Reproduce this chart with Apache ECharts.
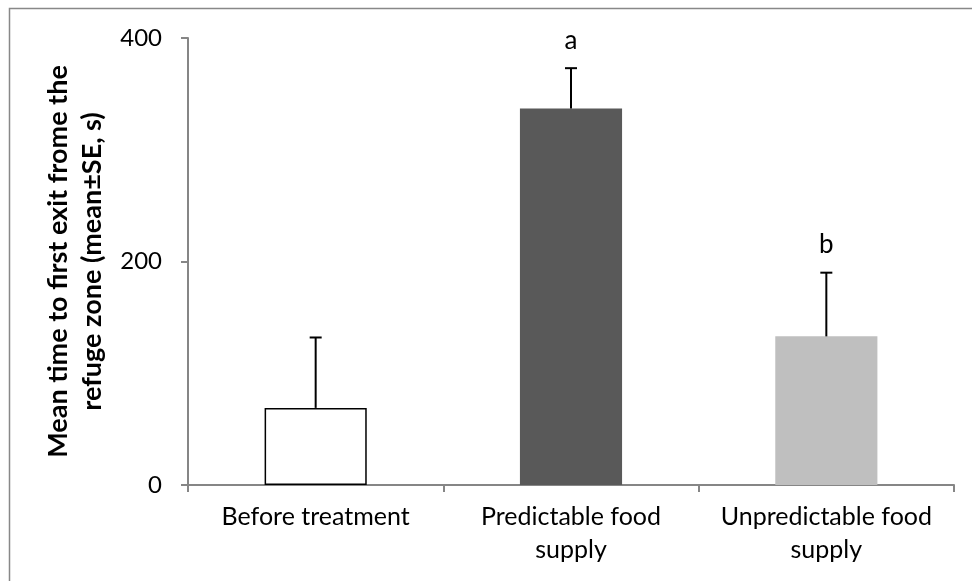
<!DOCTYPE html>
<html>
<head>
<meta charset="utf-8">
<script src="https://cdn.jsdelivr.net/npm/echarts@6/dist/echarts.min.js"></script>
<style>html,body{margin:0;padding:0;background:#fff;}#c{width:972px;height:581px;}</style>
</head>
<body>
<div id="c"></div>
<script>
const categories = ['Before treatment', 'Predictable food\nsupply', 'Unpredictable food\nsupply'];
const means = [69, 337, 133];
const seUpper = [132, 373, 190];
const letters = ['', 'a', 'b'];
const barColors = ['#ffffff', '#595959', '#bfbfbf'];
const yTicks = [0, 200, 400];

const FONT = 'Lato';
const chart = echarts.init(document.getElementById('c'));
chart.setOption({
  animation: false,
  backgroundColor: '#fff',
  graphic: [{
    type: 'rect', silent: true, z: -1,
    shape: { x: 9.5, y: 8.5, width: 1200, height: 1200 },
    style: { fill: 'none', stroke: '#888888', lineWidth: 1.5 }
  }],
  grid: { left: 188, right: 18, top: 38, bottom: 96 },
  xAxis: {
    type: 'category',
    data: categories,
    axisLine: { lineStyle: { color: '#868686', width: 2 } },
    axisTick: { show: true, length: 7, alignWithLabel: false, lineStyle: { color: '#868686', width: 2 } },
    axisLabel: { color: '#000', fontFamily: FONT, fontSize: 25, margin: 15, lineHeight: 33, interval: 0 }
  },
  yAxis: {
    type: 'value', min: 0, max: 400, interval: 200,
    name: 'Mean time to first exit frome the\nrefuge zone (mean±SE, s)',
    nameLocation: 'middle', nameRotate: 90, nameGap: 66,
    nameTextStyle: { color: '#000', fontFamily: FONT, fontSize: 27, fontWeight: 'bold', lineHeight: 34 },
    axisLine: { show: true, lineStyle: { color: '#868686', width: 2 } },
    axisTick: { show: true, length: 7, lineStyle: { color: '#868686', width: 2 } },
    axisLabel: { color: '#000', fontFamily: FONT, fontSize: 24, margin: 26,
      formatter: v => yTicks.includes(v) ? String(v) : '' },
    splitLine: { show: false }
  },
  series: [{
    type: 'bar',
    barWidth: '40%',
    data: means.map((v, i) => ({
      value: v,
      itemStyle: { color: barColors[i], borderColor: i === 0 ? '#000' : barColors[i], borderWidth: i === 0 ? 1.5 : 0 }
    })),
    z: 2
  }, {
    type: 'custom',
    z: 3,
    data: means.map((v, i) => [i, v, seUpper[i]]),
    renderItem: function (params, api) {
      const i = api.value(0);
      const base = api.coord([i, api.value(1)]);
      const top = api.coord([i, api.value(2)]);
      const cap = 6;
      const children = [
        { type: 'line', shape: { x1: base[0], y1: base[1], x2: top[0], y2: top[1] }, style: { stroke: '#000', lineWidth: 2 } },
        { type: 'line', shape: { x1: top[0] - cap, y1: top[1], x2: top[0] + cap, y2: top[1] }, style: { stroke: '#000', lineWidth: 2 } }
      ];
      const t = letters[params.dataIndex];
      if (t) {
        children.push({ type: 'text', style: { text: t, x: top[0], y: top[1] - 28, align: 'center', verticalAlign: 'middle', fill: '#000', font: '26px ' + FONT } });
      }
      return { type: 'group', children: children };
    }
  }]
});
</script>
</body>
</html>
